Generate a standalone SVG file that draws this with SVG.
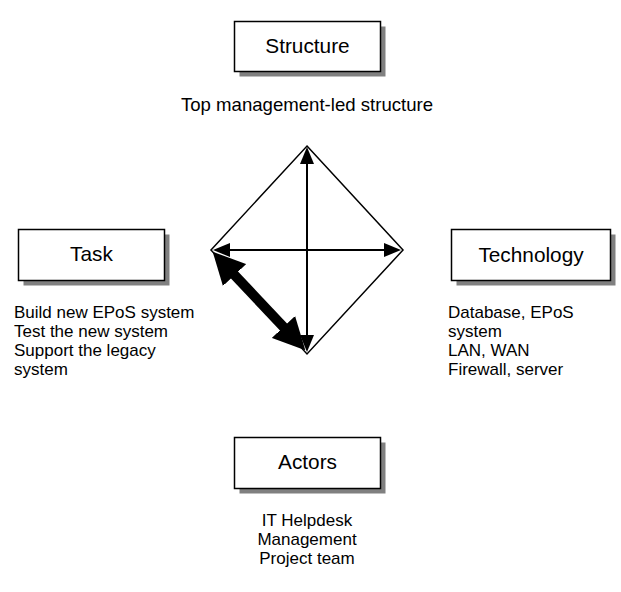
<svg xmlns="http://www.w3.org/2000/svg" width="621" height="592" viewBox="0 0 621 592">
<style>
.shadow{fill:#808080;stroke:none}
.box{fill:#ffffff;stroke:#000000;stroke-width:1.5}
.lbl{font-family:"Liberation Sans",Arial,sans-serif;font-size:20.8px;fill:#000000;text-anchor:middle}
.txt{font-family:"Liberation Sans",Arial,sans-serif;font-size:18.6px;fill:#000000}
.lst{font-family:"Liberation Sans",Arial,sans-serif;font-size:17px;fill:#000000}
.mid{text-anchor:middle}
.thin{fill:none;stroke:#000000;stroke-width:2}
.dia{fill:none;stroke:#000000;stroke-width:1.5;stroke-linejoin:miter}
.thick{fill:none;stroke:#000000;stroke-width:10}
</style>
<defs>
<marker id="ah" markerUnits="userSpaceOnUse" viewBox="0 0 17 14" markerWidth="17" markerHeight="14" refX="1" refY="7" orient="auto-start-reverse">
<path d="M0,0 L17,7 L0,14 z" fill="#000000"/>
</marker>
<marker id="ahb" markerUnits="userSpaceOnUse" viewBox="0 0 32 32" markerWidth="32" markerHeight="32" refX="1" refY="16" orient="auto-start-reverse">
<path d="M0,0 L32,16 L0,32 z" fill="#000000"/>
</marker>
</defs>
<rect width="621" height="592" fill="#ffffff"/>

<g id="connectors">
<polygon class="dia" points="307,146 403,250 307,354 211,250"/>
<path class="thin" d="M307,336 L307,163" marker-start="url(#ah)" marker-end="url(#ah)"/>
<path class="thin" d="M229,250 L385,250" marker-start="url(#ah)" marker-end="url(#ah)"/>
<path class="thick" d="M233.9,274.3 L284.1,327.7" marker-start="url(#ahb)" marker-end="url(#ahb)"/>
</g>

<g id="structure">
<rect class="shadow" x="239.5" y="26.5" width="146" height="50"/>
<rect class="box" x="234.5" y="21.5" width="146" height="50"/>
<text class="lbl" x="307.5" y="53">Structure</text>
<text class="txt mid" x="307" y="110.5">Top management-led structure</text>
</g>

<g id="task">
<rect class="shadow" x="23.5" y="234.5" width="146" height="51"/>
<rect class="box" x="18.5" y="229.5" width="146" height="51"/>
<text class="lbl" x="91.5" y="261">Task</text>
<text class="lst" x="14" y="318"><tspan x="14" y="318">Build new EPoS system</tspan><tspan x="14" y="337">Test the new system</tspan><tspan x="14" y="356">Support the legacy</tspan><tspan x="14" y="375">system</tspan></text>
</g>

<g id="technology">
<rect class="shadow" x="456.5" y="234.5" width="159" height="51"/>
<rect class="box" x="451.5" y="229.5" width="159" height="51"/>
<text class="lbl" x="531" y="261.5">Technology</text>
<text class="lst" x="448" y="318"><tspan x="448" y="318">Database, EPoS</tspan><tspan x="448" y="337">system</tspan><tspan x="448" y="356">LAN, WAN</tspan><tspan x="448" y="375">Firewall, server</tspan></text>
</g>

<g id="actors">
<rect class="shadow" x="239.5" y="442.5" width="146" height="51"/>
<rect class="box" x="234.5" y="437.5" width="146" height="51"/>
<text class="lbl" x="307.5" y="469">Actors</text>
<text class="lst mid" x="307" y="526"><tspan x="307" y="526">IT Helpdesk</tspan><tspan x="307" y="545">Management</tspan><tspan x="307" y="564">Project team</tspan></text>
</g>
</svg>
